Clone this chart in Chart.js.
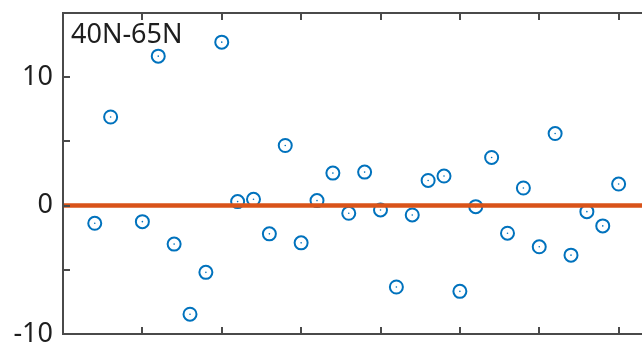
<!DOCTYPE html>
<html>
<head>
<meta charset="utf-8">
<script src="https://cdn.jsdelivr.net/npm/chart.js@4/dist/chart.umd.min.js"></script>
<style>
  html, body { margin: 0; padding: 0; background: #ffffff; overflow: hidden; }
  #wrap { position: absolute; left: 0; top: 0; width: 642px; height: 344px; overflow: hidden; }
  #anomChart { display: block; }
</style>
</head>
<body>
<div id="wrap"><canvas id="anomChart" width="720" height="344"></canvas></div>
<script>
/*
  • Data
  ---------- ---------- ---------- ---------- ----------
*/

const years = [1977, 1978, 1979, 1980, 1981, 1982, 1983, 1984, 1985, 1986,
  1987, 1988, 1989, 1990, 1991, 1992, 1993, 1994, 1995, 1996,
  1997, 1998, 1999, 2000, 2001, 2002, 2003, 2004, 2005, 2006,
  2007, 2008, 2009, 2010];

// 1979 has no value (gap in the record)
const anomaly = [-1.38, 6.9, null, -1.25, 11.64, -3.0, -8.46, -5.2, 12.73, 0.31,
  0.49, -2.2, 4.68, -2.9, 0.39, 2.53, -0.6, 2.61, -0.34, -6.34,
  -0.73, 1.96, 2.3, -6.68, -0.08, 3.75, -2.15, 1.37, -3.21, 5.61,
  -3.86, -0.47, -1.58, 1.68];

const refYears = [1975, 2015];
const refValues = [0, 0];

const yTickLabels = ['-10', '', '0', '', '10', ''];
const regionLabel = '40N-65N';

/*
  • Config
  ---------- ---------- ---------- ---------- ----------
*/

const BLUE = '#0072BD';
const ORANGE = '#D95319';
const AXIS = '#4a4a4a';
const TEXT = '#1e1e1e';
const FONT = "'Noto Sans', sans-serif";

const points = years
  .map((yr, i) => ({x: yr, y: anomaly[i]}))
  .filter((p) => p.y !== null);

const refLine = refYears.map((yr, i) => ({x: yr, y: refValues[i]}));

/*
  • Plugins
  ---------- ---------- ---------- ---------- ----------
*/

// box round the axes with inward ticks, drawn like a matlab axes
const axesBox = {
  id: 'axesBox',
  afterDraw(chart) {
    const ctx = chart.ctx;
    const area = chart.chartArea;
    const xs = chart.scales.x;
    const ys = chart.scales.y;
    const len = 7;

    ctx.save();
    ctx.strokeStyle = AXIS;
    ctx.lineWidth = 2;
    ctx.lineCap = 'butt';
    ctx.strokeRect(area.left, area.top, area.right - area.left, area.bottom - area.top);

    ctx.beginPath();
    xs.ticks.forEach((t) => {
      const px = Math.round(xs.getPixelForValue(t.value));
      ctx.moveTo(px, area.bottom);
      ctx.lineTo(px, area.bottom - len);
      ctx.moveTo(px, area.top);
      ctx.lineTo(px, area.top + len);
    });
    ys.ticks.forEach((t) => {
      const py = Math.round(ys.getPixelForValue(t.value));
      ctx.moveTo(area.left, py);
      ctx.lineTo(area.left + len, py);
      ctx.moveTo(area.right, py);
      ctx.lineTo(area.right - len, py);
    });
    ctx.stroke();

    ctx.fillStyle = TEXT;
    ctx.font = '27px ' + FONT;
    ctx.textAlign = 'left';
    ctx.textBaseline = 'alphabetic';
    ctx.fillText(regionLabel, area.left + 8, area.top + 30);
    ctx.restore();
  }
};

/*
  • Chart
  ---------- ---------- ---------- ---------- ----------
*/

const ctx = document.getElementById('anomChart').getContext('2d');

new Chart(ctx, {
  type: 'scatter',
  data: {
    datasets: [{
      // zero reference, first so it sits on top of the markers
      type: 'line',
      data: refLine,
      borderColor: ORANGE,
      borderWidth: 4.5,
      pointRadius: 0,
      fill: false,
      tension: 0
    }, {
      data: points,
      pointStyle: 'circle',
      pointRadius: 6.5,
      pointBorderWidth: 2,
      pointBorderColor: BLUE,
      pointBackgroundColor: 'rgba(0,0,0,0)'
    }, {
      // centre dot of each marker
      data: points,
      pointStyle: 'circle',
      pointRadius: 0.8,
      pointBorderWidth: 0,
      pointBackgroundColor: BLUE
    }]
  },
  options: {
    responsive: false,
    animation: false,
    events: [],
    layout: {
      padding: {top: 13, bottom: 10, left: 0, right: 22}
    },
    plugins: {
      legend: {display: false},
      tooltip: {enabled: false},
      title: {display: false}
    },
    scales: {
      x: {
        type: 'linear',
        min: 1975,
        max: 2015,
        ticks: {
          display: false,
          stepSize: 5
        },
        grid: {display: false, drawTicks: false},
        border: {display: false},
        afterFit(scale) {
          scale.height = 0;
        }
      },
      y: {
        type: 'linear',
        min: -10,
        max: 15,
        ticks: {
          stepSize: 5,
          padding: 10,
          color: TEXT,
          font: {family: FONT, size: 27},
          callback: (value, index) => yTickLabels[index]
        },
        grid: {display: false, drawTicks: false},
        border: {display: false},
        afterFit(scale) {
          // let the end labels run past the plot box instead of shrinking it
          scale.width = 63;
          scale.paddingTop = 0;
          scale.paddingBottom = 0;
        }
      }
    }
  },
  plugins: [axesBox]
});
</script>
</body>
</html>
